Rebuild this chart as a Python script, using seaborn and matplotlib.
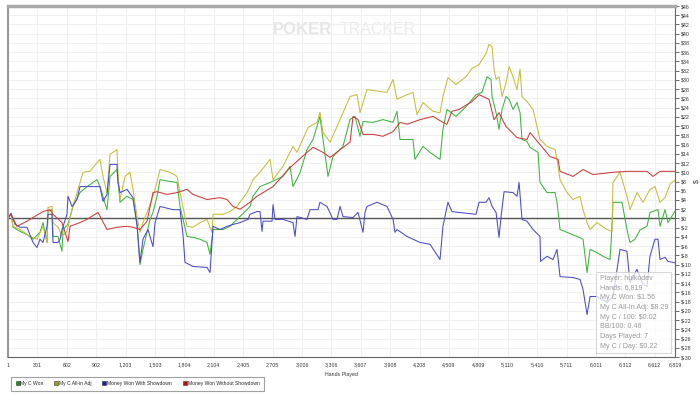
import numpy as np
import pandas as pd
import matplotlib
matplotlib.use('Agg')
import matplotlib.pyplot as plt
from matplotlib.lines import Line2D
import seaborn as sns

# hands played / cumulative dollars
won_hands = [1, 32, 52, 124, 195, 257, 328, 359, 400, 410, 451, 461, 512, 553, 563, 614, 665, 737, 808, 911,
             941, 1013, 1044, 1115, 1125, 1146, 1217, 1279, 1320, 1350, 1381, 1453, 1483, 1524, 1555, 1657, 1729,
             1759, 1831, 1892, 1964, 2035, 2066, 2097, 2199, 2270, 2342, 2444, 2475, 2505, 2577, 2679, 2812, 2884,
             2914, 2986, 3057, 3119, 3190, 3221, 3272, 3323, 3425, 3497, 3548, 3599, 3630, 3732, 3834, 3937, 3977,
             4008, 4141, 4161, 4243, 4315, 4417, 4447, 4488, 4580, 4683, 4785, 4846, 4897, 4938, 4949, 4990, 5020,
             5051, 5092, 5123, 5163, 5204, 5235, 5255, 5306, 5337, 5419, 5439, 5511, 5593, 5613, 5644, 5715, 5818,
             5879, 5920, 5951, 6022, 6083, 6155, 6175, 6185, 6277, 6328, 6359, 6410, 6461, 6533, 6563, 6645, 6666,
             6717, 6747, 6819]
won_vals = [0, 1.1, -1.9, -2.8, -3.5, -4.5, -3.0, -0.9, -5.2, 1.5, 1.9, -3.9, -3.9, -7.1, -2.4, -1.3, 2.6, 5.6, 6.9, 8.4,
            6.9, 1.9, 9.1, 10.6, 8.4, 3.5, 4.8, 4.1, -0.9, -10.0, -6.7, -0.2, 1.3, 4.8, 8.4, 8.0, 7.8,
            2.6, -3.9, -4.1, -4.5, -5.2, -7.8, -2.4, -2.4, -1.7, -0.2, 1.9, 2.6, 4.8, 6.9, 7.8, 9.1, 11.3,
            6.9, 9.9, 14.9, 17.1, 22.1, 17.1, 9.1, 13.4, 15.6, 21.4, 22.1, 17.8, 21.0, 20.8, 21.4, 20.8, 23.2,
            17.1, 17.1, 12.8, 15.6, 14.3, 12.8, 19.3, 23.6, 22.1, 24.2, 26.8, 27.3, 30.7, 30.1, 26.4, 22.9, 19.3,
            23.6, 26.4, 25.8, 23.6, 25.1, 22.9, 17.1, 16.7, 15.4, 14.3, 7.8, 5.6, 5.6, 3.5, -2.4, -3.0, -3.9,
            -4.5, -11.7, -6.7, -7.4, -8.2, -8.9, -1.7, 3.5, 3.5, -2.4, -5.2, -4.5, -2.5, -1.7, 1.3, 1.9, -1.7,
            1.9, -0.9, 1.56]

adj_hands = [1, 32, 52, 124, 226, 297, 359, 400, 410, 451, 461, 512, 553, 604, 655, 737, 768, 839, 911, 941,
             972, 1013, 1044, 1074, 1115, 1125, 1146, 1197, 1248, 1279, 1320, 1350, 1381, 1473, 1524, 1555, 1657,
             1729, 1759, 1831, 1892, 1964, 2035, 2086, 2097, 2199, 2270, 2342, 2444, 2475, 2505, 2577, 2679, 2710,
             2812, 2914, 2955, 3068, 3160, 3190, 3221, 3293, 3395, 3497, 3569, 3599, 3671, 3804, 3875, 3937, 3977,
             4080, 4141, 4182, 4243, 4345, 4417, 4447, 4498, 4580, 4683, 4744, 4816, 4887, 4918, 4949, 4969, 4990,
             5020, 5051, 5092, 5123, 5163, 5204, 5235, 5255, 5306, 5368, 5439, 5511, 5593, 5613, 5644, 5715, 5777,
             5848, 5879, 5920, 5951, 6022, 6124, 6175, 6185, 6257, 6328, 6359, 6430, 6492, 6563, 6614, 6666, 6717,
             6770, 6819]
adj_vals = [0, 1.1, -1.7, -2.4, -3.9, -4.5, -1.7, -5.2, 2.4, 2.6, -0.9, -1.9, -3.9, -2.8, 1.9, 7.8, 10.0, 10.2, 12.1, 12.8,
            9.1, 5.6, 13.9, 14.3, 14.9, 10.0, 4.1, 9.1, 10.0, 6.3, 0.4, -3.0, -0.9, 4.1, 7.8, 10.6, 10.0,
            9.1, 5.6, -1.7, -1.9, -0.9, -0.2, -3.0, 0.9, 0.9, 1.5, 2.6, 5.6, 6.9, 8.4, 10.0, 12.8, 8.4,
            11.3, 15.6, 14.3, 19.7, 20.8, 23.0, 18.6, 16.5, 21.4, 26.4, 26.8, 22.9, 27.9, 27.5, 27.3, 30.1, 25.8,
            26.8, 27.3, 22.5, 25.1, 23.2, 22.9, 26.4, 30.5, 29.0, 30.7, 32.5, 33.3, 35.7, 37.7, 37.2, 32.3, 30.1,
            30.7, 26.4, 29.4, 32.9, 30.7, 27.9, 32.3, 26.4, 25.3, 23.6, 17.1, 15.6, 14.9, 12.8, 8.4, 5.6, 4.1,
            4.8, 1.9, -0.9, -2.4, -0.9, -2.4, -2.8, 7.8, 10.0, 4.8, 1.9, 5.6, 3.5, 6.3, 6.9, 3.5, 4.5,
            7.5, 8.29]

sd_hands = [1, 32, 73, 124, 195, 257, 297, 328, 359, 400, 410, 451, 461, 512, 533, 553, 604, 614, 655, 706,
            737, 941, 972, 1013, 1044, 1115, 1125, 1146, 1217, 1279, 1320, 1350, 1381, 1432, 1483, 1504, 1555,
            1688, 1759, 1790, 1810, 1892, 2035, 2066, 2097, 2168, 2240, 2301, 2373, 2454, 2475, 2546, 2577, 2597,
            2608, 2700, 2710, 2730, 2812, 2914, 2935, 2955, 3057, 3088, 3170, 3190, 3262, 3323, 3364, 3395, 3425,
            3528, 3579, 3630, 3650, 3671, 3773, 3875, 3937, 3957, 3977, 4080, 4141, 4213, 4315, 4417, 4447, 4498,
            4539, 4611, 4785, 4816, 4887, 4918, 4949, 4990, 5020, 5041, 5072, 5163, 5204, 5225, 5255, 5306, 5368,
            5439, 5445, 5511, 5572, 5613, 5644, 5777, 5848, 5879, 5920, 5951, 6022, 6124, 6185, 6257, 6328, 6359,
            6430, 6492, 6533, 6563, 6614, 6645, 6666, 6717, 6747, 6819]
sd_vals = [0, 1.1, -1.3, -1.9, -1.9, -5.2, -6.3, -4.5, -5.2, -1.7, 0.9, 0.9, -5.2, -5.2, -4.5, -2.4, 0.9, 4.8, 2.6, 4.1,
           6.9, 6.9, 3.7, 5.2, 11.7, 11.7, 7.8, 5.6, 6.3, 4.5, -1.7, -9.5, -4.5, -2.4, -6.1, -0.9, 2.6,
           1.9, 1.9, -3.5, -9.5, -10.4, -10.6, -11.7, -1.7, -2.4, -1.7, -1.3, -0.9, -0.2, 0.9, 1.5, 1.5, -2.8,
           -0.6, -0.6, 3.0, -0.2, -0.2, -0.9, -3.9, 0.4, -0.2, 1.9, 1.9, 3.5, 2.6, -0.2, -0.2, 2.6, 0.4,
           0.2, 1.3, -3.0, 1.3, 2.6, 3.5, 2.6, -0.2, -3.0, -2.4, -3.9, -4.5, -5.2, -5.6, -8.9, -1.7, 3.5,
           1.5, 1.3, 0.9, 3.5, 3.5, 4.5, 2.6, 1.3, -4.1, 0.4, 5.8, 5.6, 4.8, 7.8, -0.2, -0.6, -2.4,
           -3.9, -9.3, -8.2, -8.9, -6.7, -12.6, -12.8, -13.2, -15.4, -20.8, -16.9, -16.9, -18.2, -16.9, -6.7, -7.1, -13.9,
           -11.0, -14.3, -14.7, -8.2, -4.5, -4.5, -8.9, -8.4, -9.3, -9.6]

nosd_hands = [1, 32, 93, 195, 359, 430, 461, 553, 614, 635, 737, 808, 921, 1013, 1115, 1217, 1279, 1350, 1422, 1483,
              1524, 1626, 1729, 1831, 1892, 2035, 2168, 2240, 2301, 2373, 2475, 2546, 2710, 2884, 3057, 3119, 3221,
              3293, 3395, 3497, 3528, 3579, 3630, 3732, 3834, 3937, 4008, 4080, 4213, 4345, 4447, 4488, 4539, 4611,
              4744, 4816, 4918, 4969, 5020, 5092, 5204, 5306, 5337, 5439, 5541, 5623, 5644, 5777, 5879, 5981, 6185,
              6328, 6533, 6594, 6666, 6819]
nosd_vals = [0, 0.9, -1.7, -0.6, 1.5, 1.9, 0.9, -0.9, -5.0, -1.7, -0.9, -0.2, 1.3, -2.4, -1.9, -1.7, -1.9, -2.4, -0.6, 5.6,
             5.8, 5.2, 5.6, 6.3, 5.2, 4.1, 4.5, 4.1, 2.6, 2.0, 3.5, 4.8, 6.9, 11.0, 14.3, 15.4, 14.3,
             13.2, 14.9, 16.5, 22.1, 21.4, 18.2, 18.2, 17.8, 18.8, 20.8, 20.4, 21.4, 22.1, 20.8, 20.4, 23.2, 23.6,
             25.3, 26.8, 25.8, 21.4, 22.9, 19.9, 17.5, 17.1, 18.6, 16.0, 13.4, 12.8, 10.2, 9.1, 10.6, 9.5, 10.0,
             10.2, 10.2, 9.1, 10.2, 10.2]

series_names = ['My C Won', 'My C All-in Adj', 'Money Won With Showdown', 'Money Won Without Showdown']
line_colors = ['#3cb43c', '#c4bd3c', '#4a4ac8', '#cc3b3b']
legend_colors = ['#119911', '#a0a010', '#1a1aa8', '#b01515']

x_ticks = [1, 301, 602, 902, 1203, 1503, 1804, 2104, 2405, 2705, 3006, 3306, 3607, 3908,
           4208, 4509, 4809, 5110, 5410, 5711, 6011, 6312, 6612, 6819]
y_ticks = list(range(-30, 47, 2))

info_lines = ['Player: hulkodev', 'Hands: 6,819', 'My C Won: $1.56', 'My C All-In Adj: $8.29',
              'My C / 100: $0.02', 'BB/100: 0.46', 'Days Played: 7', 'My C / Day: $0.22']

frames = []
for name, h, v in zip(series_names,
                      [won_hands, adj_hands, sd_hands, nosd_hands],
                      [won_vals, adj_vals, sd_vals, nosd_vals]):
    frames.append(pd.DataFrame({'hand': h, 'won': v, 'series': name}))
df = pd.concat(frames, ignore_index=True)

sns.set_style('white')
plt.rcParams['font.family'] = ['Liberation Sans', 'DejaVu Sans']

fig = plt.figure(figsize=(7, 3.95), dpi=100)
ax = fig.add_axes([8 / 700, 1 - 357 / 395, 667 / 700, 351 / 395])

# grid first so the data sits on top
for t in x_ticks:
    ax.axvline(t, color='#f0f0f0', lw=0.8, zorder=0)
for t in y_ticks:
    ax.axhline(t, color='#f0f0f0', lw=0.8, zorder=0)
ax.axhline(0, color='#555555', lw=1.0, zorder=1)

sns.lineplot(data=df, x='hand', y='won', hue='series', hue_order=series_names,
             palette=dict(zip(series_names, line_colors)), estimator=None, sort=False,
             legend=False, lw=0.75, ax=ax, zorder=2)

ax.set_xlim(1, 6819)
ax.set_ylim(-30, 46)
ax.set_xticks(x_ticks)
ax.set_xticklabels([f'{t:,}' for t in x_ticks], fontsize=3.8, color='#333333')
ax.set_yticks(y_ticks)
ax.set_yticklabels([f'${t}' for t in y_ticks], fontsize=3.8, color='#333333')
ax.yaxis.tick_right()
ax.yaxis.set_label_position('right')
ax.tick_params(axis='y', direction='out', length=3, width=0.6, color='#555555', pad=1)
ax.tick_params(axis='x', direction='inout', length=4, width=0.6, color='#555555', pad=2)
ax.set_xlabel('Hands Played', fontsize=3.8, color='#333333', labelpad=3)
ax.set_ylabel('$', fontsize=5, color='#333333')
ax.yaxis.set_label_coords((693 - 8) / 667, 0.5)

ax.spines['top'].set_color('#aaaaaa')
ax.spines['top'].set_linewidth(2.5)
ax.spines['left'].set_color('#999999')
ax.spines['left'].set_linewidth(1.5)
ax.spines['bottom'].set_color('#666666')
ax.spines['bottom'].set_linewidth(0.8)
ax.spines['right'].set_color('#666666')
ax.spines['right'].set_linewidth(0.8)

# stats box
ax.text(0.887, 0.02, '\n'.join(info_lines), transform=ax.transAxes, fontsize=5.1,
        color='#999999', va='bottom', ha='left', linespacing=1.55, zorder=5,
        bbox=dict(boxstyle='square,pad=0.45', facecolor='white', alpha=0.75, edgecolor='#cccccc', lw=0.8))

# watermark
fig.text(273 / 700, 0.925, 'POKER', fontsize=12, fontweight='bold', color='#e6e6e6', va='center', ha='left')
fig.text(340 / 700, 0.925, 'TRACKER', fontsize=11.5, color='#ececec', va='center', ha='left')

handles = [Line2D([], [], marker='s', ls='', markersize=2.8, markerfacecolor=c, markeredgecolor='#333333',
                  markeredgewidth=0.4) for c in legend_colors]
leg = fig.legend(handles, series_names, loc='lower left', bbox_to_anchor=(8 / 700, 2 / 395), ncol=4,
                 fontsize=3.6, frameon=True, fancybox=False, handletextpad=0.1, columnspacing=2.0,
                 borderpad=0.9, handlelength=1.0)
leg.get_frame().set_edgecolor('#888888')
leg.get_frame().set_linewidth(0.8)

fig.savefig('out.png', dpi=100)
